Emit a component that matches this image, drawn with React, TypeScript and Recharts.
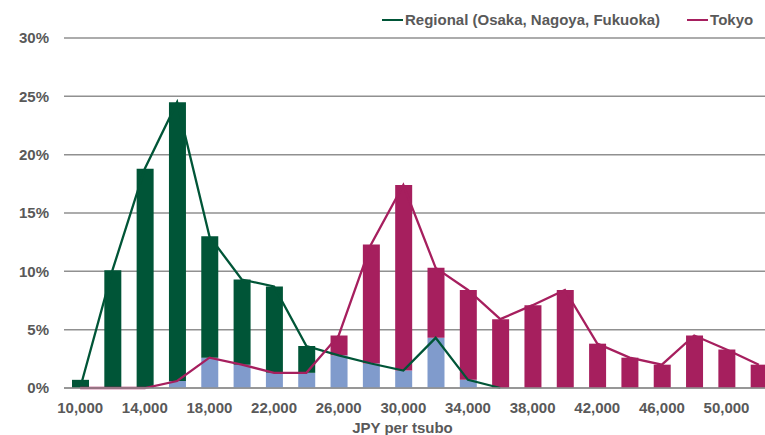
import React from 'react';
import { ComposedChart, Bar, Line, XAxis, YAxis, CartesianGrid, Legend, Label } from 'recharts';

const categories = [
  '10,000', '12,000', '14,000', '16,000', '18,000', '20,000', '22,000', '24,000',
  '26,000', '28,000', '30,000', '32,000', '34,000', '36,000', '38,000', '40,000',
  '42,000', '44,000', '46,000', '48,000', '50,000', '52,000',
];
const regionalBars = [0.7, 10.1, 18.8, 24.5, 13.0, 9.3, 8.7, 3.6, 2.8, 2.1, 1.5, 4.3, 0.7, 0, 0, 0, 0, 0, 0, 0, 0, 0];
const tokyoBars = [0, 0, 0, 0.6, 2.6, 2.0, 1.3, 1.3, 4.5, 12.3, 17.4, 10.3, 8.4, 5.9, 7.1, 8.4, 3.8, 2.6, 2.0, 4.5, 3.3, 2.0];
const regionalLine: (number | null)[] = [0, 10.1, 18.8, 24.5, 13.0, 9.3, 8.7, 3.6, 2.8, 2.1, 1.5, 4.3, 0.7, 0, null, null, null, null, null, null, null, null];
const tokyoLine = [0, 0, 0, 0.6, 2.6, 2.0, 1.3, 1.3, 4.5, 12.3, 17.4, 10.3, 8.4, 5.9, 7.1, 8.4, 3.8, 2.6, 2.0, 4.5, 3.3, 2.0];
const yTicks = [0, 5, 10, 15, 20, 25, 30];

const GREEN = '#005537';
const MAGENTA = '#A61F5E';
const BLUE = '#809BCC';
const GRID = '#909090';
const TEXT = '#595959';
const FONT = "'Liberation Sans', Arial, Helvetica, sans-serif";

const data = categories.map((cat, i) => {
  const r = regionalBars[i];
  const t = tokyoBars[i];
  const m = Math.min(r, t);
  return {
    cat,
    overlap: m,
    regionalOnly: +(r - m).toFixed(2),
    tokyoOnly: +(t - m).toFixed(2),
    regional: regionalLine[i],
    tokyo: tokyoLine[i],
  };
});

const renderLegend = (props: any) => {
  const payload = (props.payload || []).filter((p: any) => p.type !== 'none');
  return (
    <div style={{ display: 'flex', alignItems: 'center', fontFamily: FONT, fontWeight: 700, fontSize: 15, color: TEXT, whiteSpace: 'nowrap', lineHeight: '18px' }}>
      {payload.map((p: any, i: number) => (
        <div key={i} style={{ display: 'flex', alignItems: 'center', marginRight: 27 }}>
          <span style={{ display: 'inline-block', width: 21, height: 2.5, background: p.color, marginRight: 2 }} />
          <span>{p.value}</span>
        </div>
      ))}
    </div>
  );
};

const tickStyle = { fontFamily: FONT, fontWeight: 700, fontSize: 15, fill: TEXT };

export default function App() {
  return (
    <div style={{ position: 'absolute', left: 0, top: 0, width: 765, height: 435, overflow: 'hidden', background: '#fff' }}>
      <ComposedChart width={775} height={435} data={data} margin={{ top: 38, right: 0, bottom: 0, left: 0 }}>
        <CartesianGrid vertical={false} stroke={GRID} strokeWidth={1.5} />
        <XAxis
          dataKey="cat"
          interval={1}
          tickLine={false}
          tickSize={0}
          tickMargin={14}
          axisLine={{ stroke: GRID, strokeWidth: 1.5 }}
          tick={tickStyle}
          height={47}
        >
          <Label value="JPY per tsubo" position="insideBottom" offset={2} dx={-17} style={{ fontFamily: FONT, fontWeight: 700, fontSize: 15, fill: TEXT }} />
        </XAxis>
        <YAxis
          width={64}
          domain={[0, 30]}
          ticks={yTicks}
          tickFormatter={(v: number) => `${v}%`}
          axisLine={false}
          tickLine={false}
          tickSize={0}
          tickMargin={15}
          tick={tickStyle}
        />
        <Legend content={renderLegend} layout="horizontal" align="center" verticalAlign="middle" wrapperStyle={{ top: 11, left: 382, width: 420, height: 18 }} />
        <Bar dataKey="overlap" stackId="a" fill={BLUE} barSize={17} legendType="none" isAnimationActive={false} />
        <Bar dataKey="regionalOnly" stackId="a" fill={GREEN} barSize={17} legendType="none" isAnimationActive={false} />
        <Bar dataKey="tokyoOnly" stackId="a" fill={MAGENTA} barSize={17} legendType="none" isAnimationActive={false} />
        <Line type="linear" dataKey="regional" name="Regional (Osaka, Nagoya, Fukuoka)" stroke={GREEN} strokeWidth={2.3} dot={false} activeDot={false} isAnimationActive={false} />
        <Line type="linear" dataKey="tokyo" name="Tokyo" stroke={MAGENTA} strokeWidth={2.3} dot={false} activeDot={false} isAnimationActive={false} />
      </ComposedChart>
    </div>
  );
}
